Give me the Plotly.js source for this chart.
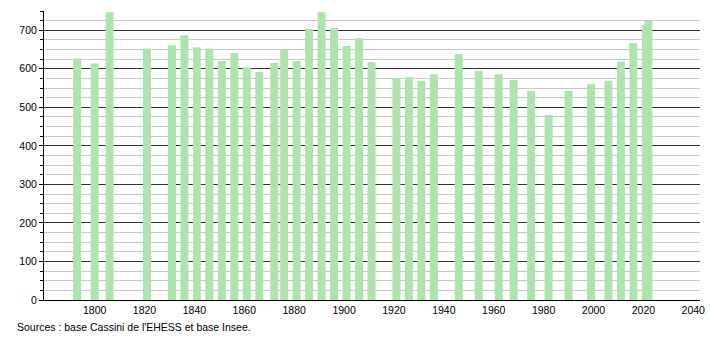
<!DOCTYPE html>
<html>
<head>
<meta charset="utf-8">
<script src="https://cdn.plot.ly/plotly-3.0.1.min.js"></script>
<style>html,body{margin:0;padding:0;background:#fff;}#chart{width:710px;height:340px;}</style>
</head>
<body>
<div id="chart"></div>
<script>
const years = [1793,1800,1806,1821,1831,1836,1841,1846,1851,1856,1861,1866,1872,1876,1881,1886,1891,1896,1901,1906,1911,1921,1926,1931,1936,1946,1954,1962,1968,1975,1982,1990,1999,2006,2011,2016,2021,2022];
const population = [627,614,747,653,661,687,656,653,620,641,604,592,615,650,620,703,747,705,659,679,617,576,578,569,586,638,595,586,571,543,480,543,560,569,618,666,713,725];
const xTickValues = [1800,1820,1840,1860,1880,1900,1920,1940,1960,1980,2000,2020,2040];
const yTickValues = [0,100,200,300,400,500,600,700];
const sourceText = "Sources : base Cassini de l'EHESS et base Insee.";

const font = {family: "Liberation Sans, Arial, sans-serif", size: 10.5, color: "#000"};

const trace = {
  type: "bar",
  x: years,
  y: population,
  width: 3.2,
  marker: {color: "#aee3ae", line: {width: 0}},
  hoverinfo: "x+y"
};

const layout = {
  width: 710, height: 340,
  margin: {l: 44, r: 10, t: 11, b: 40},
  paper_bgcolor: "#fff", plot_bgcolor: "#fff",
  font: font,
  showlegend: false,
  barmode: "overlay",
  xaxis: {
    range: [1779.7, 2042.7],
    tickmode: "array",
    tickvals: xTickValues,
    ticktext: xTickValues.map(String),
    showgrid: false,
    zeroline: false,
    showline: true, linecolor: "#000", linewidth: 1,
    ticks: "",
    tickfont: font
  },
  yaxis: {
    range: [0, 750],
    tickmode: "array",
    tickvals: yTickValues,
    ticktext: yTickValues.map(String),
    showgrid: true, gridcolor: "#333", gridwidth: 1,
    zeroline: false,
    showline: true, linecolor: "#000", linewidth: 1,
    ticks: "outside", ticklen: 4, tickcolor: "#000",
    tickfont: font,
    minor: {dtick: 25, tick0: 0, showgrid: true, gridcolor: "#c8c8c8", gridwidth: 1, ticks: "outside", ticklen: 3, tickcolor: "#000"}
  },
  annotations: [{
    text: sourceText,
    xref: "paper", yref: "paper",
    x: (15 - 44) / 656, y: -27 / 289,
    xanchor: "left", yanchor: "middle",
    showarrow: false,
    font: font
  }]
};

Plotly.newPlot("chart", [trace], layout, {displayModeBar: false, staticPlot: true});
</script>
</body>
</html>
